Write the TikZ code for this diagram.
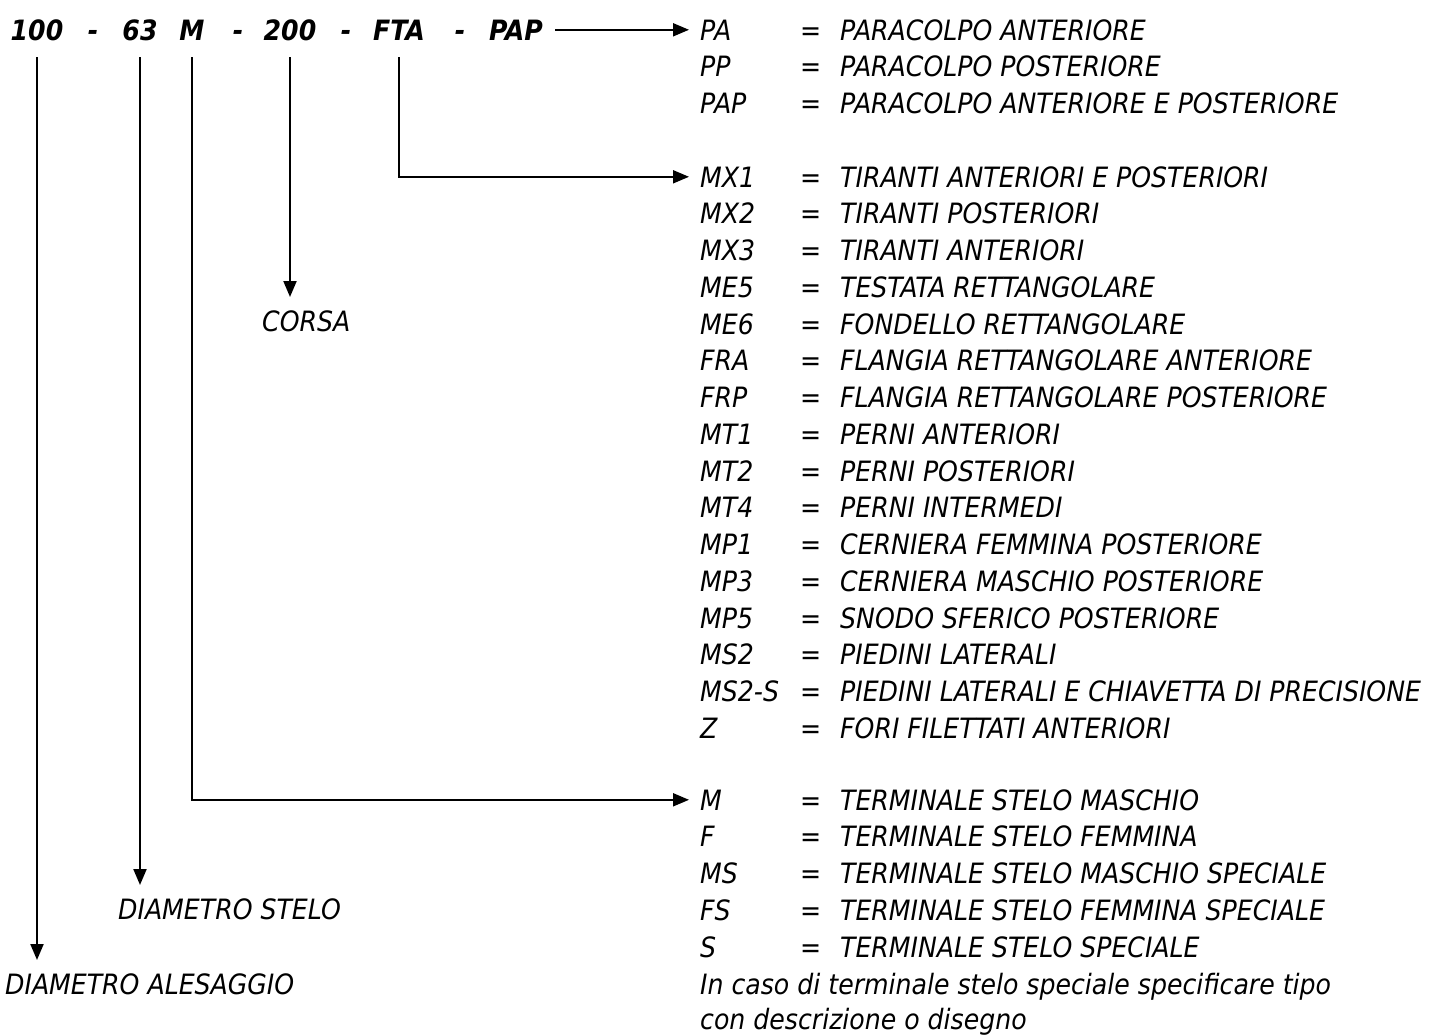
\documentclass[tikz,border=0pt]{standalone}
\usepackage{fontspec}
\setmainfont{DejaVu Sans Condensed}
\usetikzlibrary{arrows.meta}
\tikzset{
  arr/.style={
    -{Triangle[length=16pt,width=13pt]},
    line width=2pt,
  },
  code/.style={
    font=\fontsize{28}{34}\selectfont\bfseries\itshape,
    anchor=base,
    text depth=0pt,
    inner xsep=12pt,
    inner ysep=17pt,
  },
  keyname/.style={
    font=\fontsize{28}{34}\selectfont\itshape,
    anchor=base west,
    inner xsep=11pt,
    inner ysep=3pt,
  },
  keytext/.style={
    font=\fontsize{28}{34}\selectfont\itshape,
    anchor=base west,
    inner sep=0pt,
  },
  caption/.style={
    font=\fontsize{28}{34}\selectfont\itshape,
    anchor=north west,
    inner xsep=0pt,
    inner ysep=14pt,
  }
}

\begin{document}
\begin{tikzpicture}[x=1pt, y=-1pt]
  \useasboundingbox (0, 0) rectangle (1434, 1034);

  % order code
  \node[code] (bore)   at (37, 40)  {100};
  \node[code]          at (93, 40)  {-};
  \node[code] (rod)    at (140, 40) {63};
  \node[code] (term)   at (192, 40) {M};
  \node[code]          at (238, 40) {-};
  \node[code] (stroke) at (290, 40) {200};
  \node[code]          at (346, 40) {-};
  \node[code] (mount)  at (399, 40) {FTA};
  \node[code]          at (460, 40) {-};
  \node[code] (cush)   at (516, 40) {PAP};

  % paracolpi
  \foreach \code/\desc [count=\i from 0] in {
    PA/PARACOLPO ANTERIORE,
    PP/PARACOLPO POSTERIORE,
    PAP/PARACOLPO ANTERIORE E POSTERIORE
  } {
    \node[keyname] (cu\i) at (689, {40+\i*36.75}) {\code};
    \node[keytext] at (800, {40+\i*36.75}) {=};
    \node[keytext] at (840, {40+\i*36.75}) {\desc};
  }

  % fissaggi
  \foreach \code/\desc [count=\i from 0] in {
    MX1/TIRANTI ANTERIORI E POSTERIORI,
    MX2/TIRANTI POSTERIORI,
    MX3/TIRANTI ANTERIORI,
    ME5/TESTATA RETTANGOLARE,
    ME6/FONDELLO RETTANGOLARE,
    FRA/FLANGIA RETTANGOLARE ANTERIORE,
    FRP/FLANGIA RETTANGOLARE POSTERIORE,
    MT1/PERNI ANTERIORI,
    MT2/PERNI POSTERIORI,
    MT4/PERNI INTERMEDI,
    MP1/CERNIERA FEMMINA POSTERIORE,
    MP3/CERNIERA MASCHIO POSTERIORE,
    MP5/SNODO SFERICO POSTERIORE,
    MS2/PIEDINI LATERALI,
    MS2-S/PIEDINI LATERALI E CHIAVETTA DI PRECISIONE,
    Z/FORI FILETTATI ANTERIORI
  } {
    \node[keyname] (mx\i) at (689, {187+\i*36.75}) {\code};
    \node[keytext] at (800, {187+\i*36.75}) {=};
    \node[keytext] at (840, {187+\i*36.75}) {\desc};
  }

  % terminali stelo
  \foreach \code/\desc [count=\i from 0] in {
    M/TERMINALE STELO MASCHIO,
    F/TERMINALE STELO FEMMINA,
    MS/TERMINALE STELO MASCHIO SPECIALE,
    FS/TERMINALE STELO FEMMINA SPECIALE,
    S/TERMINALE STELO SPECIALE
  } {
    \node[keyname] (tm\i) at (689, {810+\i*36.75}) {\code};
    \node[keytext] at (800, {810+\i*36.75}) {=};
    \node[keytext] at (840, {810+\i*36.75}) {\desc};
  }
  \node[keytext] (note1) at (700, 994) {In caso di terminale stelo speciale specificare tipo};
  \node[keytext] (note2) at (700, 1029) {con descrizione o disegno};

  % didascalie
  \node[caption] (corsa) at (262, 297) {CORSA};
  \node[caption] (stelo) at (118, 885) {DIAMETRO STELO};
  \node[caption] (alesaggio) at (5, 960) {DIAMETRO ALESAGGIO};

  % frecce
  \draw[arr] (cush) -- (cu0);
  \draw[arr] (mount) |- (mx0);
  \draw[arr] (term) |- (tm0);
  \draw[arr] (stroke) -- (stroke |- corsa.north);
  \draw[arr] (rod) -- (rod |- stelo.north);
  \draw[arr] (bore) -- (bore |- alesaggio.north);
\end{tikzpicture}
\end{document}
